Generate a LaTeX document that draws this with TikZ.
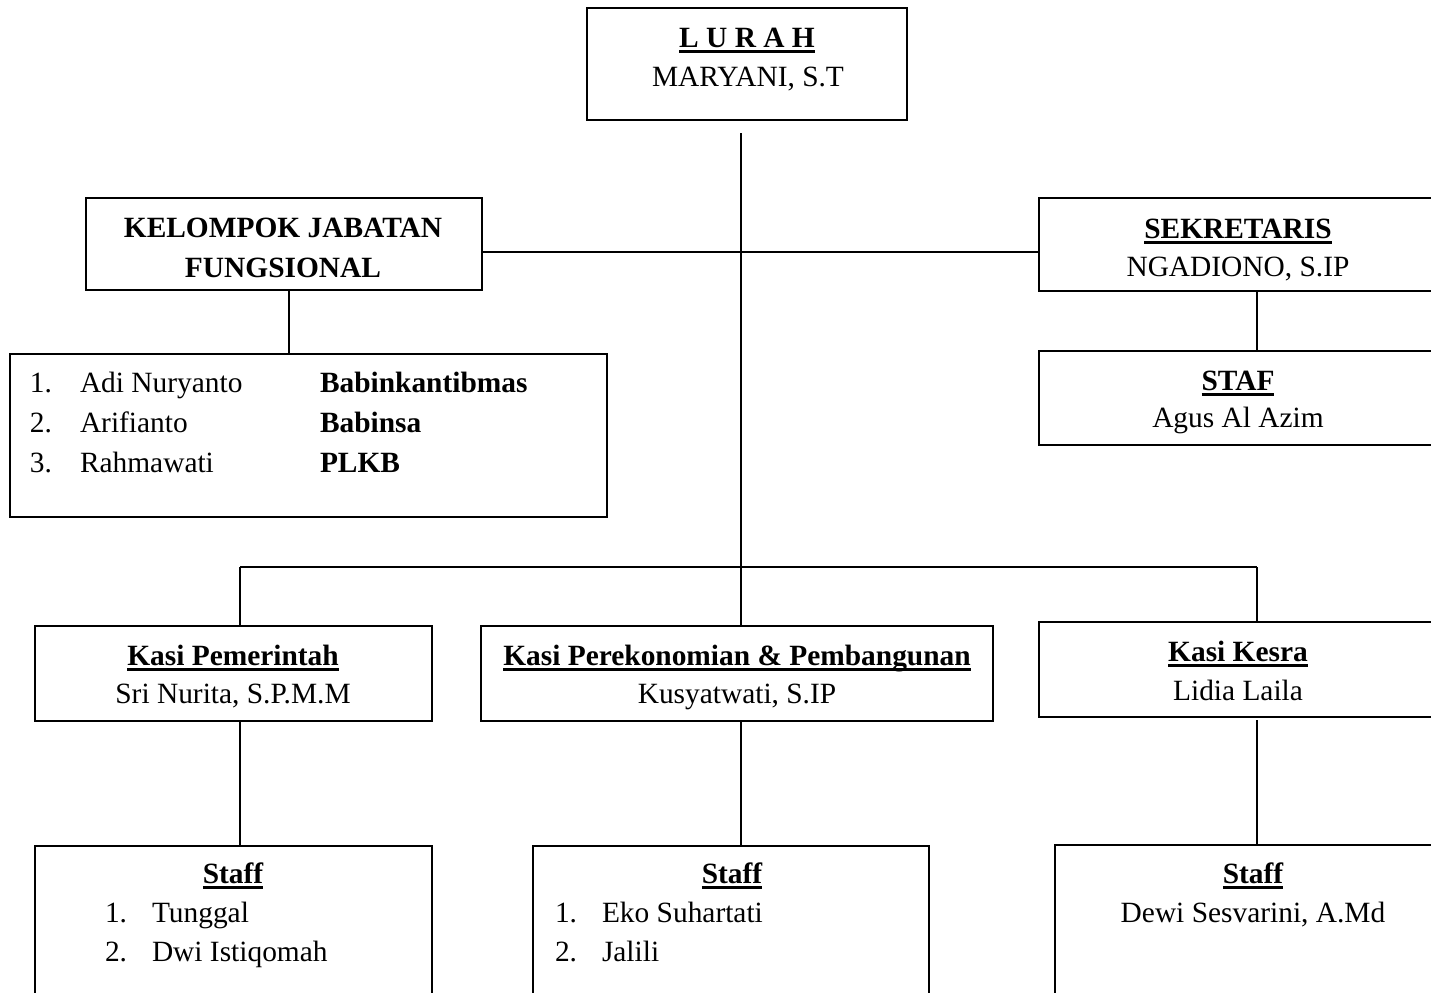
\documentclass[tikz,border=0pt]{standalone}
\usepackage{fontspec}
\setmainfont{Liberation Serif}
\newcommand{\myul}[1]{\leavevmode\setbox0=\hbox{#1}\rlap{\copy0}\rule[-2.9pt]{\wd0}{1.3pt}}
\begin{document}
\begin{tikzpicture}[x=0.5pt,y=-0.5pt,
  box/.style={draw, line width=1pt, inner sep=0pt, outer sep=0pt, anchor=north west, rectangle},
  txt/.style={inner sep=0pt, outer sep=0pt, anchor=base, font=\fontsize{14.7}{17}\selectfont},
  txtl/.style={txt, anchor=base west},
  ln/.style={line width=1pt}]
\useasboundingbox (0,0) rectangle (1431,992);
\clip (0,0) rectangle (1431,992);
\fill[white] (0,0) rectangle (1431,992);
% boxes
\node[box, minimum width=160pt, minimum height=56pt] (lurah) at (587,8) {};
\node[box, minimum width=198pt, minimum height=46pt] (kjf) at (86,198) {};
\node[box, minimum width=200pt, minimum height=46.5pt] (sek) at (1039,198) {};
\node[box, minimum width=200pt, minimum height=47pt] (staf) at (1039,351) {};
\node[box, minimum width=298.5pt, minimum height=81.5pt] (list) at (10,354) {};
\node[box, minimum width=198.5pt, minimum height=47.5pt] (kpem) at (35,626) {};
\node[box, minimum width=256pt, minimum height=47.5pt] (keko) at (481,626) {};
\node[box, minimum width=200pt, minimum height=47.5pt] (kkes) at (1039,622) {};
\node[box, minimum width=198.5pt, minimum height=100pt] (s1) at (35,846) {};
\node[box, minimum width=198pt, minimum height=100pt] (s2) at (533,846) {};
\node[box, minimum width=200pt, minimum height=100pt] (s3) at (1055,845) {};
% connector helper coordinates
\coordinate (trunk) at (741,133);
\coordinate (hj) at (741,252);
\coordinate (kd) at (289,0);
\coordinate (sd) at (1257,0);
\coordinate (br) at (741,567);
\coordinate (lx) at (240,0);
\coordinate (kkgap) at (1257,720);
% connectors
\draw[ln] (trunk) -- (trunk |- keko.north);
\draw[ln] (kjf.east |- hj) -- (sek.west |- hj);
\draw[ln] (kjf.south -| kd) -- (list.north -| kd);
\draw[ln] (sek.south -| sd) -- (staf.north -| sd);
\draw[ln] (lx |- br) -- (sd |- br);
\draw[ln] (lx |- br) -- (kpem.north -| lx);
\draw[ln] (sd |- br) -- (kkes.north -| sd);
\draw[ln] (kpem.south -| lx) -- (s1.north -| lx);
\draw[ln] (keko.south -| trunk) -- (s2.north -| trunk);
\draw[ln] (kkgap) -- (s3.north -| kkgap);
% texts
\node[txt] (t-lurah) at (747,47) {\textbf{\myul{L U R A H}}};
\node[txt] (t-mary) at (748,86) {MARYANI, S.T};
\node[txt] (t-kjf1) at (283,237) {\textbf{KELOMPOK JABATAN}};
\node[txt] (t-kjf2) at (283,277) {\textbf{FUNGSIONAL}};
\node[txt] (t-sek) at (1238,238) {\textbf{\myul{SEKRETARIS}}};
\node[txt] (t-ngad) at (1238,276) {NGADIONO, S.IP};
\node[txt] (t-staf) at (1238,390) {\textbf{\myul{STAF}}};
\node[txt] (t-agus) at (1238,427) {Agus Al Azim};
\node[txtl] (l1n) at (30,392) {1.};
\node[txtl] (l1a) at (80,392) {Adi Nuryanto};
\node[txtl] (l1b) at (320,392) {\textbf{Babinkantibmas}};
\node[txtl] (l2n) at (30,432) {2.};
\node[txtl] (l2a) at (80,432) {Arifianto};
\node[txtl] (l2b) at (320,432) {\textbf{Babinsa}};
\node[txtl] (l3n) at (30,472) {3.};
\node[txtl] (l3a) at (80,472) {Rahmawati};
\node[txtl] (l3b) at (320,472) {\textbf{PLKB}};
\node[txt] (t-kpem) at (233,665) {\textbf{\myul{Kasi Pemerintah}}};
\node[txt] (t-sri) at (233,703) {Sri Nurita, S.P.M.M};
\node[txt] (t-keko) at (737,665) {\textbf{\myul{Kasi Perekonomian \& Pembangunan}}};
\node[txt] (t-kusy) at (737,703) {Kusyatwati, S.IP};
\node[txt] (t-kkes) at (1238,661) {\textbf{\myul{Kasi Kesra}}};
\node[txt] (t-lidia) at (1238,700) {Lidia Laila};
\node[txt] (t-s1) at (233,883) {\textbf{\myul{Staff}}};
\node[txtl] (s1n1) at (105,922) {1.};
\node[txtl] (s1a) at (152,922) {Tunggal};
\node[txtl] (s1n2) at (105,961) {2.};
\node[txtl] (s1b) at (152,961) {Dwi Istiqomah};
\node[txt] (t-s2) at (732,883) {\textbf{\myul{Staff}}};
\node[txtl] (s2n1) at (555,922) {1.};
\node[txtl] (s2a) at (602,922) {Eko Suhartati};
\node[txtl] (s2n2) at (555,961) {2.};
\node[txtl] (s2b) at (602,961) {Jalili};
\node[txt] (t-s3) at (1253,883) {\textbf{\myul{Staff}}};
\node[txt] (t-dewi) at (1253,922) {Dewi Sesvarini, A.Md};
\end{tikzpicture}
\end{document}
